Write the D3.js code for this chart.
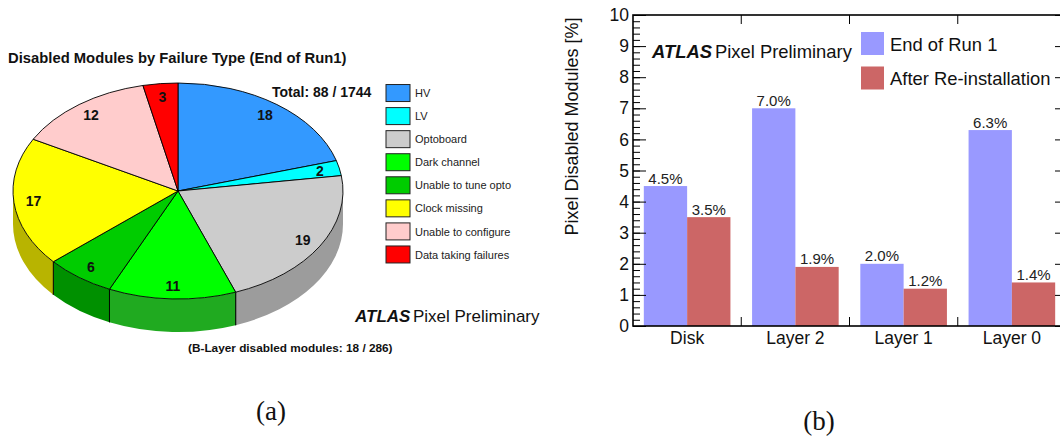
<!DOCTYPE html>
<html>
<head>
<meta charset="utf-8">
<script src="https://cdn.jsdelivr.net/npm/d3@7"></script>
<style>
  html, body { margin: 0; padding: 0; background: #fff; }
  svg { display: block; font-family: "Liberation Sans", Arial, Helvetica, sans-serif; }
</style>
</head>
<body>
<svg id="fig" width="1060" height="436"></svg>
<script>
// ---- (a) failure types of disabled modules ----
const failureTypes = ["HV", "LV", "Optoboard", "Dark channel", "Unable to tune opto",
                      "Clock missing", "Unable to configure", "Data taking failures"];
const failureCounts = [18, 2, 19, 11, 6, 17, 12, 3];
const failureColors = ["#3399ff", "#00ffff", "#cccccc", "#00ff00", "#00cc00",
                       "#ffff00", "#ffcccc", "#ff0000"];
const sideColors = ["#2470c0", "#00b4b4", "#9c9c9c", "#20aa20", "#009000",
                    "#b8b400", "#c09a9a", "#b00000"];

// ---- (b) disabled module fraction per layer ----
const categories = ["Disk", "Layer 2", "Layer 1", "Layer 0"];
const seriesNames = ["End of Run 1", "After Re-installation"];
const endOfRun1 = [4.5, 7.0, 2.0, 6.3];
const afterReinstallation = [3.5, 1.9, 1.2, 1.4];
const seriesColors = ["#9999ff", "#cc6666"];
const yTickValues = [0, 1, 2, 3, 4, 5, 6, 7, 8, 9, 10];

(function () {
const svg = d3.select("#fig");
svg.append("rect").attr("width", 1060).attr("height", 436).attr("fill", "#fff");

// ================= 3D pie =================
const pieG = svg.append("g");
const cx = 178, cy = 191, rx = 165, ry = 108, depth = 33;
const pt = (a, dy = 0, f = 1) => [cx + f * rx * Math.sin(a), cy - f * ry * Math.cos(a) + dy];
const colorOf = d3.scaleOrdinal().domain(failureTypes).range(failureColors);
const sideOf = d3.scaleOrdinal().domain(failureTypes).range(sideColors);

const arcs = d3.pie().sort(null).startAngle(0).endAngle(2 * Math.PI)
  .value((d, i) => failureCounts[i])(failureTypes);

// side walls (front half only)
arcs.forEach(d => {
  const a0 = Math.max(d.startAngle, Math.PI / 2);
  const a1 = Math.min(d.endAngle, 3 * Math.PI / 2);
  if (a1 <= a0) return;
  const large = (a1 - a0) > Math.PI ? 1 : 0;
  const p0 = pt(a0), p1 = pt(a1), q1 = pt(a1, depth), q0 = pt(a0, depth);
  const path = `M${p0}A${rx},${ry} 0 ${large} 1 ${p1}L${q1}A${rx},${ry} 0 ${large} 0 ${q0}Z`;
  pieG.append("path").attr("d", path).attr("fill", sideOf(d.data)).attr("stroke", "none");
  // edges where slices meet on the wall
  [d.startAngle, d.endAngle].forEach(a => {
    if (a > Math.PI / 2 && a < 3 * Math.PI / 2) {
      pieG.append("line")
        .attr("x1", pt(a)[0]).attr("y1", pt(a)[1])
        .attr("x2", pt(a, depth)[0]).attr("y2", pt(a, depth)[1])
        .attr("stroke", "#000").attr("stroke-width", 0.9);
    }
  });
});

// top faces
arcs.forEach(d => {
  const large = (d.endAngle - d.startAngle) > Math.PI ? 1 : 0;
  const path = `M${cx},${cy}L${pt(d.startAngle)}A${rx},${ry} 0 ${large} 1 ${pt(d.endAngle)}Z`;
  pieG.append("path").attr("d", path).attr("fill", colorOf(d.data))
    .attr("stroke", "#000").attr("stroke-width", 0.9).attr("stroke-linejoin", "round");
});

// slice counts
arcs.forEach((d, i) => {
  const m = (d.startAngle + d.endAngle) / 2;
  const p = pt(m, 0, 0.88);
  pieG.append("text").attr("x", p[0]).attr("y", p[1]).attr("dy", "0.36em")
    .attr("text-anchor", "middle").attr("font-size", 14).attr("font-weight", "bold")
    .attr("fill", "#111").text(failureCounts[i]);
});

pieG.append("text").attr("x", 8).attr("y", 62.5).attr("font-size", 14.8)
  .attr("font-weight", "bold").attr("fill", "#111")
  .text("Disabled Modules by Failure Type (End of Run1)");
pieG.append("text").attr("x", 272).attr("y", 96.5).attr("font-size", 14)
  .attr("font-weight", "bold").attr("fill", "#111").text("Total: 88 / 1744");

// legend
const legY = d3.scaleBand().domain(failureTypes).range([81.5, 266]).paddingInner(0);
const leg = pieG.selectAll("g.leg").data(failureTypes).enter().append("g")
  .attr("transform", d => `translate(386,${legY(d) + (legY.bandwidth() - 17) / 2})`);
leg.append("rect").attr("width", 24).attr("height", 17)
  .attr("fill", d => colorOf(d)).attr("stroke", "#222").attr("stroke-width", 1);
leg.append("text").attr("x", 29).attr("y", 12.6).attr("font-size", 11)
  .attr("fill", "#222").text(d => d);

const atlasA = pieG.append("text").attr("x", 355).attr("y", 321.5).attr("font-size", 17).attr("fill", "#111");
atlasA.append("tspan").attr("font-weight", "bold").attr("font-style", "italic").text("ATLAS");
atlasA.append("tspan").attr("dx", 2.5).text("Pixel Preliminary");

pieG.append("text").attr("x", 188).attr("y", 352).attr("font-size", 11.8)
  .attr("font-weight", "bold").attr("fill", "#111")
  .text("(B-Layer disabled modules: 18 / 286)");

svg.append("text").attr("x", 271).attr("y", 420).attr("text-anchor", "middle")
  .attr("font-family", "'Liberation Serif', 'DejaVu Serif', serif").attr("font-size", 27)
  .attr("fill", "#111").text("(a)");

// ================= bar chart =================
const barG = svg.append("g");
const plotL = 633, plotR = 1066, plotT = 15, plotB = 326;
const x = d3.scaleBand().domain(categories).range([plotL, plotR]).padding(0);
const xs = d3.scaleBand().domain(seriesNames).range([0, x.bandwidth()]).paddingInner(0).paddingOuter(0.25);
const y = d3.scaleLinear().domain([0, 10]).range([plotB, plotT]);
const color = d3.scaleOrdinal().domain(seriesNames).range(seriesColors);

const rows = categories.map((c, i) => ({ c, vals: [endOfRun1[i], afterReinstallation[i]] }));
const grp = barG.selectAll("g.cat").data(rows).enter().append("g")
  .attr("transform", d => `translate(${x(d.c)},0)`);
grp.selectAll("rect").data(d => d.vals.map((v, j) => ({ s: seriesNames[j], v })))
  .enter().append("rect")
  .attr("x", d => xs(d.s)).attr("width", xs.bandwidth())
  .attr("y", d => y(d.v)).attr("height", d => y(0) - y(d.v))
  .attr("fill", d => color(d.s));
grp.selectAll("text").data(d => d.vals.map((v, j) => ({ s: seriesNames[j], v })))
  .enter().append("text")
  .attr("x", d => xs(d.s) + xs.bandwidth() / 2).attr("y", d => y(d.v) - 2.5)
  .attr("text-anchor", "middle").attr("font-size", 15).attr("fill", "#222")
  .text(d => d.v.toFixed(1) + "%");

// minor and major ticks on the left, pointing inward
barG.append("g").attr("transform", `translate(${plotL},0)`)
  .call(d3.axisLeft(y).ticks(50).tickSizeInner(-7).tickSizeOuter(0).tickFormat(""))
  .call(g => g.select(".domain").remove())
  .call(g => g.selectAll("line").attr("stroke", "#000").attr("stroke-width", 1));
barG.append("g").attr("transform", `translate(${plotL},0)`)
  .call(d3.axisLeft(y).tickValues(yTickValues).tickSizeInner(-13).tickSizeOuter(0).tickPadding(4)
    .tickFormat(d3.format("d")))
  .call(g => g.select(".domain").remove())
  .call(g => g.selectAll("line").attr("stroke", "#000").attr("stroke-width", 1))
  .call(g => g.selectAll("text").attr("font-size", 17.5).attr("fill", "#111")
    .attr("font-family", "'Liberation Sans', Arial, sans-serif"));
// right side ticks
barG.append("g").attr("transform", `translate(${plotR},0)`)
  .call(d3.axisRight(y).tickValues(yTickValues).tickSizeInner(-11).tickSizeOuter(0).tickFormat(""))
  .call(g => g.select(".domain").remove())
  .call(g => g.selectAll("line").attr("stroke", "#000").attr("stroke-width", 1));

// category boundary ticks, bottom and top
const bounds = categories.slice(1).map(c => x(c));
barG.selectAll("line.bt").data(bounds).enter().append("line")
  .attr("x1", d => d).attr("x2", d => d).attr("y1", plotB).attr("y2", plotB - 9)
  .attr("stroke", "#000").attr("stroke-width", 1);
barG.selectAll("line.tt").data(bounds).enter().append("line")
  .attr("x1", d => d).attr("x2", d => d).attr("y1", plotT).attr("y2", plotT + 9)
  .attr("stroke", "#000").attr("stroke-width", 1);

// category labels
barG.append("g").attr("transform", `translate(0,${plotB})`)
  .call(d3.axisBottom(x).tickSize(0).tickPadding(6))
  .call(g => g.select(".domain").remove())
  .call(g => g.selectAll("text").attr("font-size", 17.5).attr("fill", "#111")
    .attr("font-family", "'Liberation Sans', Arial, sans-serif"));

// frame
barG.append("rect").attr("x", plotL).attr("y", plotT).attr("width", plotR - plotL).attr("height", plotB - plotT)
  .attr("fill", "none").attr("stroke", "#000").attr("stroke-width", 1.6);

// y title
barG.append("text").attr("transform", `translate(578,${(15 + 238) / 2}) rotate(-90)`)
  .attr("text-anchor", "middle").attr("font-size", 18).attr("fill", "#111")
  .text("Pixel Disabled Modules [%]");

const atlasB = barG.append("text").attr("x", 652).attr("y", 58).attr("font-size", 18.4).attr("fill", "#111");
atlasB.append("tspan").attr("font-weight", "bold").attr("font-style", "italic").text("ATLAS");
atlasB.append("tspan").attr("dx", 3).text("Pixel Preliminary");

// legend
const bl = barG.selectAll("g.bl").data(seriesNames).enter().append("g")
  .attr("transform", (d, i) => `translate(861,${32 + i * 34.5})`);
bl.append("rect").attr("width", 23).attr("height", 23).attr("fill", d => color(d));
bl.append("text").attr("x", 29).attr("y", 18.5).attr("font-size", 18.4).attr("fill", "#111").text(d => d);

svg.append("text").attr("x", 819).attr("y", 430).attr("text-anchor", "middle")
  .attr("font-family", "'Liberation Serif', 'DejaVu Serif', serif").attr("font-size", 27)
  .attr("fill", "#111").text("(b)");
})();
</script>
</body>
</html>
